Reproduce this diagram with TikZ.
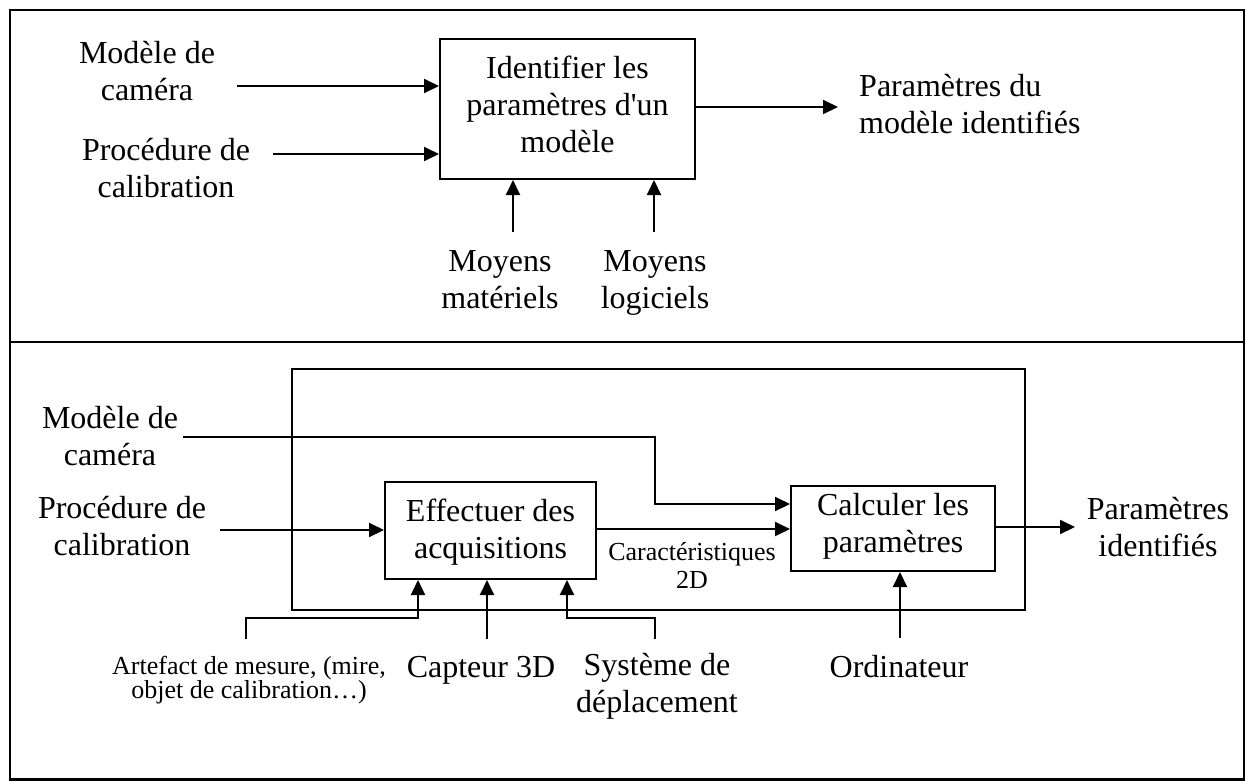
\documentclass[tikz,border=0pt]{standalone}
\usepackage{fontspec}
\setmainfont{Liberation Serif}[Ligatures=TeXOff]
\usetikzlibrary{arrows.meta}
% multi-line labels are anchored on the baseline of their last line
\tikzset{
  txt/.style={font=\fontsize{32}{37}\selectfont, align=center, inner sep=0pt, anchor=base},
  txtl/.style={font=\fontsize{32}{37}\selectfont, align=left, inner sep=0pt, anchor=base west},
  feattxt/.style={font=\fontsize{26}{28}\selectfont, align=center, inner sep=0pt, anchor=base},
  smalltxt/.style={font=\fontsize{26}{24}\selectfont, align=center, inner sep=0pt, anchor=base},
  proc/.style={draw, line width=2pt, inner sep=0pt},
  arr/.style={line width=2pt, -{Triangle[length=15pt,width=14pt]}},
  frame/.style={line width=2.6pt}
}
\begin{document}
\begin{tikzpicture}[x=1pt,y=-1pt]
\useasboundingbox (0,0) rectangle (1245,780);

% outer frame and separation between the two levels
\draw[frame] (10,10) rectangle (1244.5,779.5);
\coordinate (divL) at (10,342);
\coordinate (divR) at (1244.5,342);
\draw[frame] (divL) -- (divR);

% ---------- level A-0 ----------
\node[proc, minimum width=255pt, minimum height=140pt] (ident) at (567.5,109) {};
\node[txt] (identtxt) at (567.5,152) {Identifier les\\paramètres d'un\\modèle};

\node[txt] (camA) at (147,100) {Modèle de\\caméra};
\node[txt] (procA) at (166,197) {Procédure de\\calibration};
\node[txtl] (outA) at (859,133) {Paramètres du\\modèle identifiés};
\node[txt] (matA) at (500,308) {Moyens\\matériels};
\node[txt] (logA) at (655,308) {Moyens\\logiciels};

\coordinate (camAs) at (237,86);
\coordinate (procAs) at (273,154);
\coordinate (outAs) at (838,107);
\coordinate (matAs) at (513,232);
\coordinate (logAs) at (654,232);

\draw[arr] (camAs) -- (camAs -| ident.west);
\draw[arr] (procAs) -- (procAs -| ident.west);
\draw[arr] (outAs -| ident.east) -- (outAs);
\draw[arr] (matAs) -- (matAs |- ident.south);
\draw[arr] (logAs) -- (logAs |- ident.south);

% ---------- level A0 ----------
\node[proc, minimum width=733pt, minimum height=241pt] (bound) at (658.5,489.5) {};
\node[proc, minimum width=211pt, minimum height=97pt] (acq) at (490.5,530.5) {};
\node[txt] (acqtxt) at (490.5,558) {Effectuer des\\acquisitions};
\node[proc, minimum width=204pt, minimum height=85pt] (calc) at (893,528.5) {};
\node[txt] (calctxt) at (893,552) {Calculer les\\paramètres};

\node[txt] (camB) at (110,465) {Modèle de\\caméra};
\node[txt] (procB) at (122,555) {Procédure de\\calibration};
\node[txt] (outB) at (1158,556) {Paramètres\\identifiés};
\node[feattxt] (feat) at (692,588) {Caractéristiques\\2D};
\node[smalltxt] (artef) at (249,698) {Artefact de mesure, (mire,\\objet de calibration…)};
\node[txt] (capt) at (481,677) {Capteur 3D};
\node[txt] (depl) at (657,712) {Système de\\déplacement};
\node[txt] (ordi) at (899,677) {Ordinateur};

\coordinate (camBs) at (183,437);
\coordinate (camBk1) at (655,437);
\coordinate (camBk2) at (655,504);
\coordinate (procBs) at (220,530);
\coordinate (featy) at (0,529);
\coordinate (outBs) at (1075,527);
\coordinate (artS) at (246,639);
\coordinate (artK) at (246,618);
\coordinate (artE) at (418,618);
\coordinate (captS) at (487,639);
\coordinate (deplS) at (655,639);
\coordinate (deplK) at (655,618);
\coordinate (deplE) at (567,618);
\coordinate (ordiS) at (900,638);

\draw[arr] (camBs) -- (camBk1) -- (camBk2) -- (camBk2 -| calc.west);
\draw[arr] (procBs) -- (procBs -| acq.west);
\draw[arr] (featy -| acq.east) -- (featy -| calc.west);
\draw[arr] (outBs -| calc.east) -- (outBs);
\draw[arr] (artS) -- (artK) -- (artE) -- (artE |- acq.south);
\draw[arr] (captS) -- (captS |- acq.south);
\draw[arr] (deplS) -- (deplK) -- (deplE) -- (deplE |- acq.south);
\draw[arr] (ordiS) -- (ordiS |- calc.south);
\end{tikzpicture}
\end{document}
